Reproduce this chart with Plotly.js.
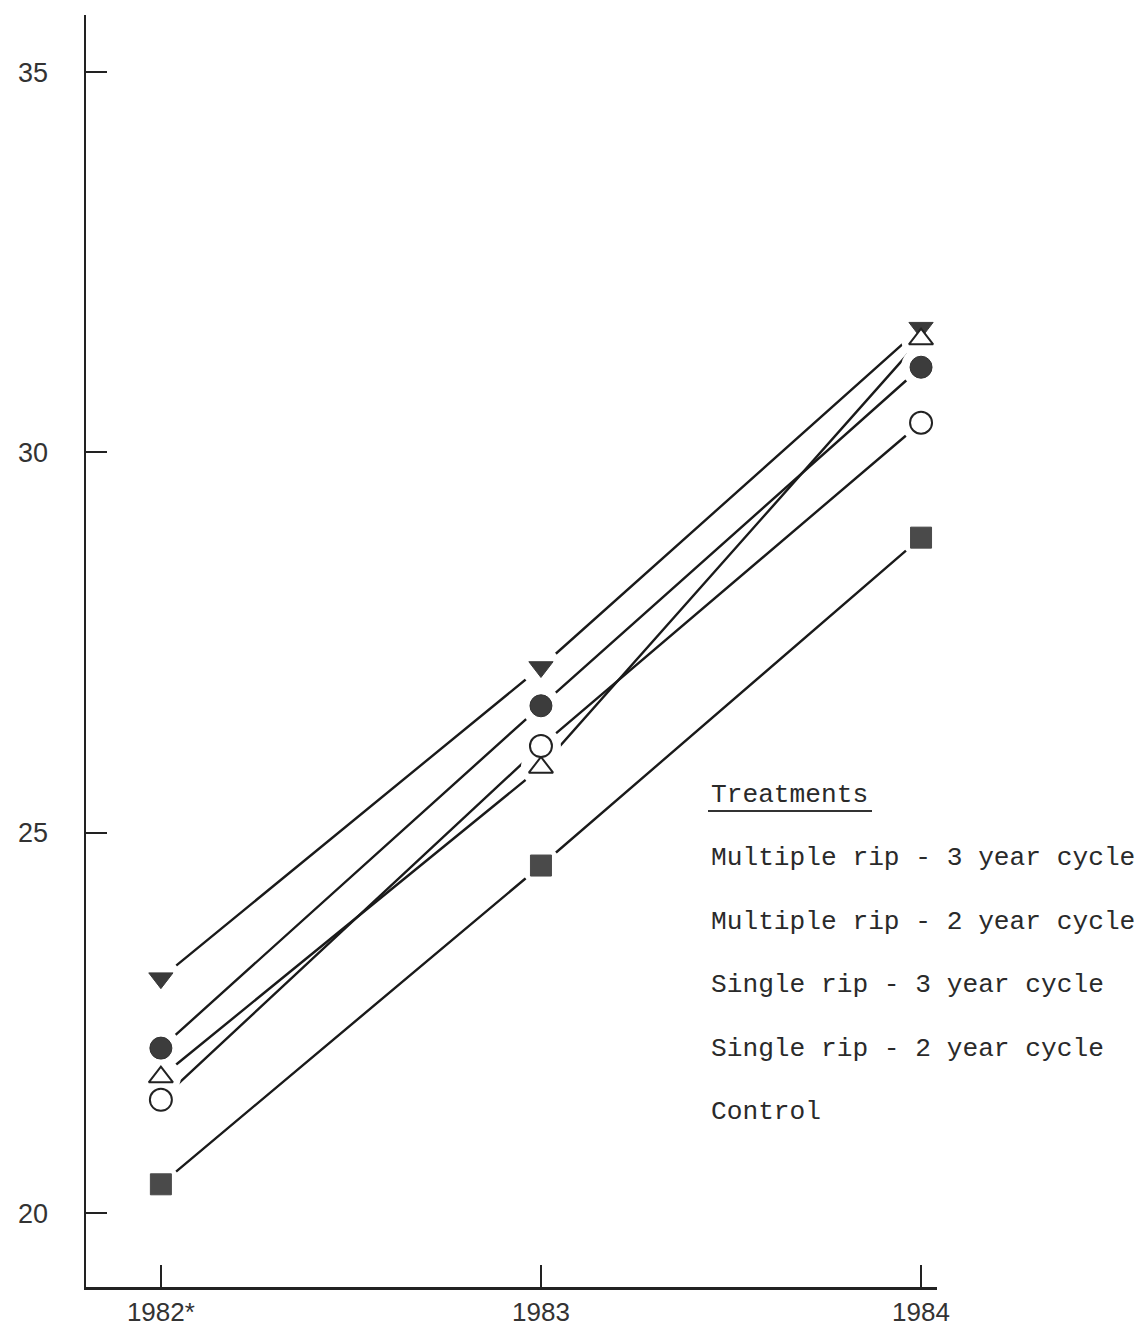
<!DOCTYPE html>
<html>
<head>
<meta charset="utf-8">
<script src="https://cdn.plot.ly/plotly-3.0.1.min.js"></script>
<style>html,body{margin:0;padding:0;background:#fff;}#chart{width:1145px;height:1328px;}</style>
</head>
<body>
<div id="chart"></div>
<script>
const categories = ["1982*", "1983", "1984"];
const seriesNames = ["Multiple rip - 3 year cycle", "Multiple rip - 2 year cycle", "Single rip - 3 year cycle", "Single rip - 2 year cycle", "Control"];
const multiple3 = [23.09, 27.18, 31.64];
const multiple2 = [22.17, 26.67, 31.12];
const single3 = [21.79, 25.86, 31.49];
const single2 = [21.49, 26.14, 30.39];
const control = [20.38, 24.57, 28.88];
const yTicks = [20, 25, 30, 35];
const legendTitle = "Treatments";

const allSeries = [multiple3, multiple2, single3, single2, control];
const styles = [
  {symbol: "triangle-down", size: 21, color: "#3a3a3a", lc: "#3a3a3a", lw: 1},
  {symbol: "circle", size: 22, color: "#3c3c3c", lc: "#333", lw: 1},
  {symbol: "triangle-up", size: 21, color: "#ffffff", lc: "#222", lw: 2},
  {symbol: "circle", size: 22, color: "#ffffff", lc: "#222", lw: 2},
  {symbol: "square", size: 21, color: "#4a4a4a", lc: "#4a4a4a", lw: 1}
];
const xIdx = categories.map((c, i) => i);

const traces = [];
allSeries.forEach((ys, k) => {
  traces.push({x: xIdx, y: ys, mode: "lines", type: "scatter", name: seriesNames[k],
    line: {color: "#1a1a1a", width: 2.4}, showlegend: false, hoverinfo: "skip"});
});
allSeries.forEach((ys, k) => {
  traces.push({x: xIdx, y: ys, mode: "markers", type: "scatter",
    marker: {symbol: "circle", size: 40, color: "#ffffff", line: {width: 0}},
    showlegend: false, hoverinfo: "skip"});
});
allSeries.forEach((ys, k) => {
  const s = styles[k];
  traces.push({x: xIdx, y: ys, mode: "markers", type: "scatter", name: seriesNames[k],
    marker: {symbol: s.symbol, size: s.size, color: s.color, line: {color: s.lc, width: s.lw}},
    showlegend: false});
});

const W = 1145, H = 1328, L = 86, R = 208, T = 15, B = 41;
const pw = W - L - R, ph = H - T - B;
const px2x = p => (p - L) / pw;
const py2y = p => (H - B - p) / ph;

const legendFont = {family: "Liberation Mono, Courier New, monospace", size: 26.2, color: "#2a2a2a"};
const annotations = [{
  xref: "paper", yref: "paper", x: px2x(709), y: py2y(795), xanchor: "left", yanchor: "middle",
  text: legendTitle, showarrow: false, font: legendFont
}];
seriesNames.forEach((n, i) => {
  annotations.push({
    xref: "paper", yref: "paper", x: px2x(709), y: py2y(858 + i * 63.5), xanchor: "left", yanchor: "middle",
    text: n, showarrow: false, font: legendFont
  });
});

const layout = {
  width: W, height: H,
  margin: {l: L, r: R, t: T, b: B, pad: 0},
  paper_bgcolor: "#ffffff", plot_bgcolor: "#ffffff",
  showlegend: false,
  xaxis: {
    range: [-0.197, 2.042], tickvals: xIdx, ticktext: categories,
    showgrid: false, zeroline: false, showline: true, linecolor: "#222", linewidth: 2.5,
    ticks: "inside", ticklen: 22, tickwidth: 2, tickcolor: "#222",
    tickfont: {family: "Liberation Sans Narrow, Arial Narrow, sans-serif", size: 26, color: "#333"},
    ticklabelstandoff: 0, fixedrange: true
  },
  yaxis: {
    range: [19.03, 35.75], tickvals: yTicks, ticktext: yTicks.map(String),
    showgrid: false, zeroline: false, showline: true, linecolor: "#222", linewidth: 2.5,
    ticks: "inside", ticklen: 21, tickwidth: 2, tickcolor: "#222",
    tickfont: {family: "Liberation Sans Narrow, Arial Narrow, sans-serif", size: 27, color: "#333"},
    ticklabelstandoff: 30, fixedrange: true
  },
  annotations: annotations,
  shapes: [{type: "line", xref: "paper", yref: "paper", x0: px2x(708), x1: px2x(872), y0: py2y(811), y1: py2y(811),
    line: {color: "#333", width: 2}}]
};

Plotly.newPlot("chart", traces, layout, {displayModeBar: false, staticPlot: true});
</script>
</body>
</html>
